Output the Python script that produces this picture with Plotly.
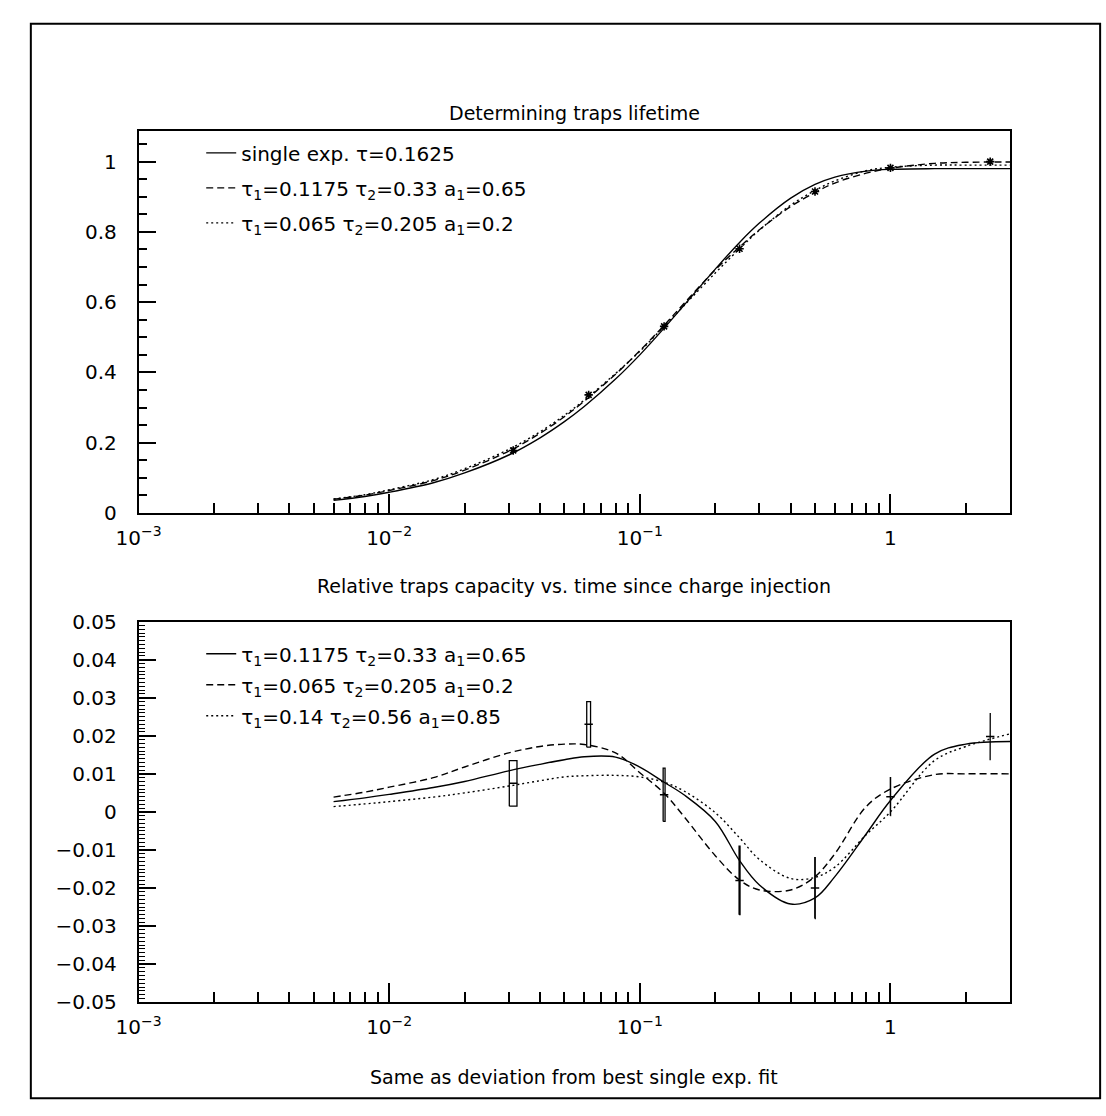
import plotly.graph_objects as go

# ---------------- data ----------------
t_grid = [0.006, 0.008, 0.01, 0.015, 0.02, 0.03, 0.04, 0.05, 0.06, 0.08, 0.1, 0.125,
          0.15, 0.2, 0.25, 0.3, 0.4, 0.5, 0.6, 0.8, 1.0, 1.5, 2.0, 3.0]

# top panel: relative traps capacity
top_single = [0.036, 0.047, 0.059, 0.086, 0.114, 0.165, 0.214, 0.260, 0.303, 0.381, 0.450, 0.526,
              0.591, 0.694, 0.770, 0.825, 0.896, 0.935, 0.956, 0.973, 0.978, 0.980, 0.980, 0.980]
top_fit_a = [0.039, 0.051, 0.064, 0.092, 0.122, 0.176, 0.227, 0.274, 0.318, 0.395, 0.462, 0.534,
             0.596, 0.692, 0.757, 0.806, 0.872, 0.912, 0.939, 0.967, 0.981, 0.995, 0.998, 0.999]
top_fit_b = [0.040, 0.052, 0.066, 0.095, 0.126, 0.181, 0.231, 0.278, 0.321, 0.397, 0.460, 0.531,
             0.590, 0.683, 0.752, 0.805, 0.876, 0.918, 0.945, 0.974, 0.984, 0.990, 0.990, 0.990]

data_t = [0.03125, 0.0625, 0.125, 0.25, 0.5, 1.0, 2.5]
data_top = [0.178, 0.336, 0.531, 0.752, 0.915, 0.982, 1.000]

# bottom panel: deviation from best single exp. fit
dev_a = [0.0027, 0.0037, 0.0046, 0.0064, 0.0080, 0.0108, 0.0125, 0.0137, 0.0145, 0.0144, 0.0118, 0.0078,
         0.0045, -0.0025, -0.0128, -0.0192, -0.0242, -0.0226, -0.0170, -0.0058, 0.0030, 0.0152, 0.0178, 0.0185]
dev_b = [0.0039, 0.0052, 0.0065, 0.0090, 0.0118, 0.0155, 0.0172, 0.0178, 0.0177, 0.0155, 0.0103, 0.0049,
         -0.0012, -0.0115, -0.0179, -0.0205, -0.0205, -0.0170, -0.0110, 0.0014, 0.0060, 0.0098, 0.0100, 0.0100]
dev_c = [0.0014, 0.0021, 0.0027, 0.0039, 0.0050, 0.0068, 0.0082, 0.0092, 0.0095, 0.0096, 0.0092, 0.0078,
         0.0055, -0.0002, -0.0068, -0.0125, -0.0175, -0.0172, -0.0145, -0.0060, 0.0000, 0.0135, 0.0172, 0.0205]

data_dev = [0.0075, 0.0230, 0.0045, -0.0180, -0.0200, 0.0040, 0.0198]
data_err = [0.0060, 0.0060, 0.0070, 0.0090, 0.0080, 0.0050, 0.0062]
data_dt = 0.0011   # half-width of time bin

names_top = ["single exp. τ=0.1625",
             "τ<sub>1</sub>=0.1175 τ<sub>2</sub>=0.33 a<sub>1</sub>=0.65",
             "τ<sub>1</sub>=0.065 τ<sub>2</sub>=0.205 a<sub>1</sub>=0.2"]
names_bot = ["τ<sub>1</sub>=0.1175 τ<sub>2</sub>=0.33 a<sub>1</sub>=0.65",
             "τ<sub>1</sub>=0.065 τ<sub>2</sub>=0.205 a<sub>1</sub>=0.2",
             "τ<sub>1</sub>=0.14 τ<sub>2</sub>=0.56 a<sub>1</sub>=0.85"]

x_major = [0.001, 0.01, 0.1, 1]
x_major_text = ["10<sup>−3</sup>", "10<sup>−2</sup>", "10<sup>−1</sup>", "1"]
x_minor = [m * d for d in (0.001, 0.01, 0.1, 1) for m in range(2, 10) if m * d <= 3.0]

title_top = "Determining traps lifetime"
caption_top = "Relative traps capacity vs. time since charge injection"
caption_bot = "Same as deviation from best single exp. fit"

# ---------------- styling ----------------
W, H = 1106, 1116
FONT = "DejaVu Sans"
styles = [dict(color="black", width=1.4, dash="solid"),
          dict(color="black", width=1.4, dash="7px,4px"),
          dict(color="black", width=1.4, dash="2px,3px")]

fig = go.Figure()

for i, ys in enumerate([top_single, top_fit_a, top_fit_b]):
    fig.add_trace(go.Scatter(x=t_grid, y=ys, mode="lines", name=names_top[i], line=styles[i],
                             line_shape="spline", legend="legend", legendgroup=f"t{i}",
                             xaxis="x", yaxis="y"))
fig.add_trace(go.Scatter(x=data_t, y=data_top, mode="markers", showlegend=False,
                         marker=dict(symbol="asterisk-open", size=7, color="black",
                                     line=dict(width=1.6, color="black")),
                         xaxis="x", yaxis="y"))

for i, ys in enumerate([dev_a, dev_b, dev_c]):
    fig.add_trace(go.Scatter(x=t_grid, y=ys, mode="lines", name=names_bot[i], line=styles[i],
                             line_shape="spline", legend="legend2", legendgroup=f"b{i}",
                             xaxis="x2", yaxis="y2"))

# error boxes
bx, by = [], []
for t, v, e in zip(data_t, data_dev, data_err):
    bx += [t - data_dt, t + data_dt, t + data_dt, t - data_dt, t - data_dt, None]
    by += [v - e, v - e, v + e, v + e, v - e, None]
fig.add_trace(go.Scatter(x=bx, y=by, mode="lines", showlegend=False,
                         line=dict(color="black", width=1.3), xaxis="x2", yaxis="y2"))
fig.add_trace(go.Scatter(x=data_t, y=data_dev, mode="markers", showlegend=False,
                         marker=dict(symbol="line-ew-open", size=6, color="black",
                                     line=dict(width=1.5, color="black")),
                         xaxis="x2", yaxis="y2"))

xdom = [118 / W, 1008 / W]
ydom_top = [1 - 512 / H, 1 - 122 / H]
ydom_bot = [1 - 1012 / H, 1 - 623 / H]

xcommon = dict(type="log", range=[-3, 0.4771], domain=xdom, tickmode="array",
               tickvals=x_major, ticktext=x_major_text, ticks="inside", ticklen=19,
               tickwidth=1.5, tickcolor="black", showline=True, mirror=True,
               linecolor="black", linewidth=1.5, showgrid=False, zeroline=False,
               ticklabelstandoff=6, tickfont=dict(family=FONT, size=20, color="black"),
               minor=dict(tickmode="array", tickvals=x_minor, ticks="inside", ticklen=10,
                          tickwidth=1.5, tickcolor="black", showgrid=False))
ycommon = dict(ticks="inside", ticklen=18, tickwidth=1.5, tickcolor="black",
               showline=True, mirror=True, linecolor="black", linewidth=1.5,
               showgrid=False, zeroline=False, ticklabelstandoff=16,
               tickfont=dict(family=FONT, size=20, color="black"))

ann_font = dict(family=FONT, size=19, color="black")
xc = (xdom[0] + xdom[1]) / 2

fig.update_layout(
    width=W, height=H, autosize=False,
    margin=dict(l=0, r=0, t=0, b=0),
    paper_bgcolor="white", plot_bgcolor="white",
    font=dict(family=FONT, size=19, color="black"),
    xaxis=dict(**xcommon, anchor="y"),
    yaxis=dict(**ycommon, domain=ydom_top, range=[0, 1.086], dtick=0.2, tick0=0,
               minor=dict(dtick=0.05, tick0=0, ticks="inside", ticklen=9, tickwidth=1.5,
                          tickcolor="black", showgrid=False), anchor="x"),
    xaxis2=dict(**xcommon, anchor="y2"),
    yaxis2=dict(**ycommon, domain=ydom_bot, range=[-0.05, 0.05], dtick=0.01, tick0=0,
                minor=dict(dtick=0.001, tick0=0, ticks="inside", ticklen=7, tickwidth=1.3,
                           tickcolor="black", showgrid=False), anchor="x2"),
    legend=dict(x=182 / W, y=1 - 124 / H, xanchor="left", yanchor="top",
                bgcolor="rgba(0,0,0,0)", font=dict(family=FONT, size=20, color="black"),
                tracegroupgap=6, itemwidth=30),
    legend2=dict(x=182 / W, y=1 - 636 / H, xanchor="left", yanchor="top",
                 bgcolor="rgba(0,0,0,0)", font=dict(family=FONT, size=20, color="black"),
                 tracegroupgap=2, itemwidth=30),
    showlegend=True,
    annotations=[
        dict(text=title_top, x=xc, y=1 - 103 / H, xref="paper", yref="paper",
             xanchor="center", yanchor="middle", showarrow=False, font=ann_font),
        dict(text=caption_top, x=xc, y=1 - 587 / H, xref="paper", yref="paper",
             xanchor="center", yanchor="middle", showarrow=False, font=ann_font),
        dict(text=caption_bot, x=xc, y=1 - 1088 / H, xref="paper", yref="paper",
             xanchor="center", yanchor="middle", showarrow=False, font=ann_font),
    ],
    shapes=[dict(type="rect", xref="paper", yref="paper", x0=8 / W, x1=1100 / W,
                 y0=1 - 1110 / H, y1=1 - 12 / H, line=dict(color="black", width=2))],
)

fig.write_html("out.html")
